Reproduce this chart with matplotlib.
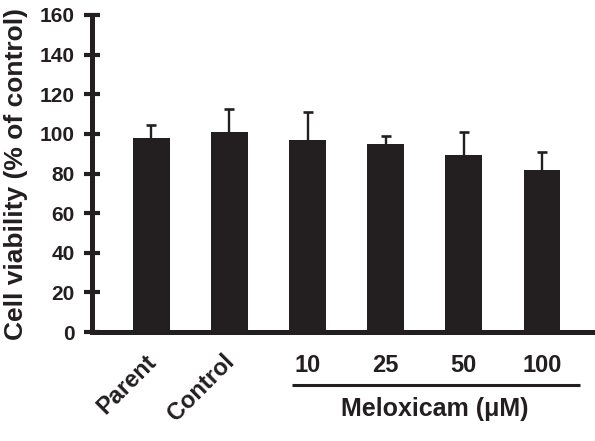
import matplotlib
matplotlib.use("Agg")
import matplotlib.pyplot as plt
import numpy as np

categories = ["Parent", "Control", "10", "25", "50", "100"]
values = [98, 101, 97, 95, 89.5, 82]
err_upper = [6.5, 11.5, 14, 4, 11.5, 9]
yticks = [0, 20, 40, 60, 80, 100, 120, 140, 160]

col = "#231f20"
plt.rcParams['font.family'] = ['Liberation Sans', 'DejaVu Sans']
plt.rcParams['font.weight'] = 'bold'

fig = plt.figure(figsize=(5.95, 4.41), dpi=100)
ax = fig.add_axes([0.1546, 0.247, 0.8454, 0.719])

x = np.arange(len(categories))
ax.bar(x, values, width=0.47, color=col, zorder=2)
eb = ax.errorbar(x, values, yerr=[np.zeros(len(values)), err_upper], fmt='none',
                 ecolor=col, elinewidth=1.7, capsize=3.8, capthick=1.9, zorder=1)
caplines = eb[1]
if len(caplines) >= 2:
    caplines[0].set_visible(False)

ax.set_ylim(0, 160)
ax.set_xlim(-0.76, 5.68)
ax.set_yticks(yticks)
ax.set_yticklabels([str(t) for t in yticks], fontsize=15, fontweight='bold', color=col)
ax.tick_params(axis='y', direction='inout', length=11, width=3, color=col, pad=7)
ax.set_xticks([])

for s in ['top', 'right']:
    ax.spines[s].set_visible(False)
for s in ['left', 'bottom']:
    ax.spines[s].set_linewidth(3.6)
    ax.spines[s].set_color(col)
ax.spines['bottom'].set_capstyle('butt')

ax.set_ylabel("Cell viability (% of control)", fontsize=19, fontweight='bold', color=col)
ax.yaxis.set_label_coords(-0.127, 0.5)

trans = ax.get_xaxis_transform()
for i, c in enumerate(categories):
    if i < 2:
        ax.text(i + 0.12, -0.057, c, transform=trans, rotation=45, ha='right', va='top',
                fontsize=17, fontweight='bold', color=col)
    else:
        ax.text(i, -0.104, c, transform=trans, ha='center', va='center',
                fontsize=17, fontweight='bold', color=col)

ax.plot([1.8, 5.49], [-0.167, -0.167], transform=trans, color=col, lw=2.2,
        clip_on=False, solid_capstyle='butt')
ax.text(3.63, -0.243, "Meloxicam (μM)", transform=trans,
        ha='center', va='center', fontsize=18, fontweight='bold', color=col)

fig.savefig("out.png", dpi=100)
